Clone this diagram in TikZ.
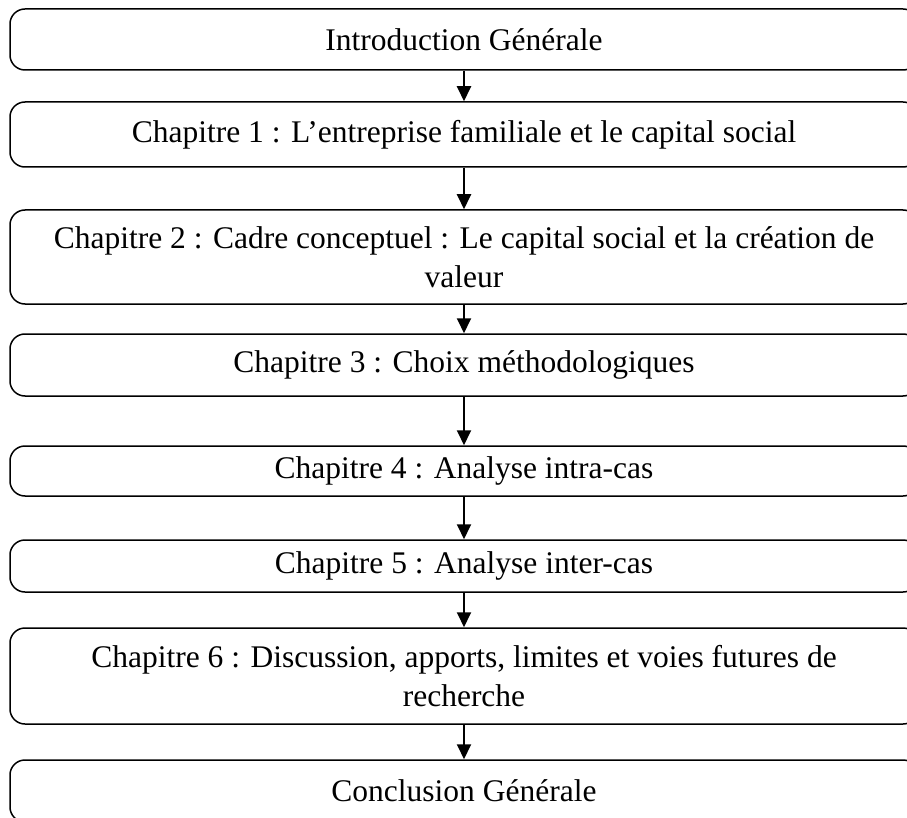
\documentclass[tikz,border=0pt]{standalone}
\usepackage{fontspec}
\setmainfont{Liberation Serif}
\usetikzlibrary{arrows.meta}
\begin{document}
\begin{tikzpicture}[x=1pt,y=-1pt,
  chapbox/.style={draw, line width=1.5pt, rounded corners=15pt, rectangle,
    minimum width=908pt, inner sep=0pt, align=center,
    font=\fontsize{31.5}{39}\selectfont},
  flow/.style={line width=1.9pt, -{Triangle[width=14pt,length=15pt]}}]
\useasboundingbox (0,0) rectangle (907,818);
\clip (0,0) rectangle (907,818);
\node[chapbox, minimum height=61pt] (b1) at (464,39.5) {Introduction Générale};
\node[chapbox, minimum height=65pt] (b2) at (464,134.5) {Chapitre 1 : L’entreprise familiale et le capital social};
\node[chapbox, minimum height=94pt] (b3) at (464,257) {Chapitre 2 : Cadre conceptuel : Le capital social et la création de\\valeur};
\node[chapbox, minimum height=62pt] (b4) at (464,365) {Chapitre 3 : Choix méthodologiques};
\node[chapbox, minimum height=50pt] (b5) at (464,471) {Chapitre 4 : Analyse intra-cas};
\node[chapbox, minimum height=52pt] (b6) at (464,566) {Chapitre 5 : Analyse inter-cas};
\node[chapbox, minimum height=96pt] (b7) at (464,676) {Chapitre 6 : Discussion, apports, limites et voies futures de\\recherche};
\node[chapbox, minimum height=62pt] (b8) at (464,791) {Conclusion Générale};
\foreach \a/\b in {b1/b2,b2/b3,b3/b4,b4/b5,b5/b6,b6/b7,b7/b8}
  \draw[flow] (\a.south) -- (\b.north);
\end{tikzpicture}
\end{document}
